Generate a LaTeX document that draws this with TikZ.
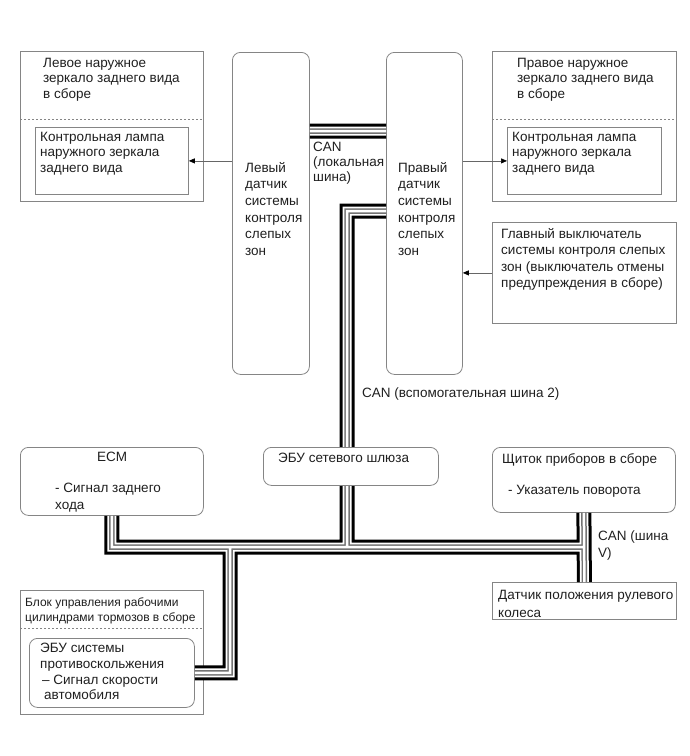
\documentclass[tikz,border=0pt]{standalone}
\usepackage{fontspec}
\setmainfont{Liberation Sans}
\definecolor{framegray}{gray}{0.52}
\definecolor{textgray}{gray}{0.12}
\usetikzlibrary{arrows.meta, positioning}

\begin{document}
\begin{tikzpicture}[x=1pt, y=-1pt,
    block/.style={draw=framegray, line width=0.8pt, inner sep=0pt, anchor=north west},
    rblock/.style={block, rounded corners=8pt},
    txt/.style={anchor=north west, inner sep=0pt, align=left, text=textgray, font=\fontsize{13.5}{16.5}\selectfont},
    sig/.style={draw=black!60, line width=0.7pt, -{Triangle[length=6pt, width=5pt, color=black]}},
    sepline/.style={draw=framegray, line width=0.8pt, dash pattern=on 2pt off 2pt}
]
    \useasboundingbox (0,0) rectangle (690,756);

    % Mirrors (top left / top right)
    \node[block, minimum width=183pt, minimum height=150pt] (lmirror) at (20,51) {};
    \node[block, minimum width=153pt, minimum height=67pt] (llamp) at (35,127) {};
    \node[block, minimum width=184pt, minimum height=150pt] (rmirror) at (492,51) {};
    \node[block, minimum width=154pt, minimum height=67pt] (rlamp) at (507,127) {};
    \draw[sepline] (lmirror.west |- 0,119) -- (lmirror.east |- 0,119);
    \draw[sepline] (rmirror.west |- 0,119) -- (rmirror.east |- 0,119);

    % Blind spot sensors
    \node[rblock, minimum width=77pt, minimum height=322pt] (lsensor) at (232,52) {};
    \node[rblock, minimum width=76pt, minimum height=322pt] (rsensor) at (386,52) {};

    % Main switch
    \node[block, minimum width=184pt, minimum height=101pt] (mainsw) at (492,222) {};

    % Lower units
    \node[rblock, minimum width=183pt, minimum height=68pt] (ecm) at (20,447) {};
    \node[rblock, minimum width=183pt, minimum height=65pt] (cluster) at (492,447) {};
    \node[block, minimum width=184pt, minimum height=37pt] (steer) at (492,582) {};
    \node[block, minimum width=183pt, minimum height=124pt] (brake) at (20,590) {};
    \node[rblock, minimum width=165pt, minimum height=69pt] (abs) at (29,638) {};
    \draw[sepline] (brake.west |- 0,628) -- (brake.east |- 0,628);

    % Bus junctions
    \coordinate (cloc) at (0,131);
    \coordinate (ctop) at (0,211);
    \coordinate (jgw) at (347,547);
    \coordinate (jabs) at (230,547);
    \coordinate (jmain) at (cluster.south |- jgw);

    % CAN lines
    \foreach \w/\c in {15/black, 9/white, 5.5/black!55, 2.5/white}{
        \draw[line width=\w pt, draw=\c]
            (lsensor.east |- cloc) -- (rsensor.west |- cloc)
            (rsensor.west |- ctop) -| (jgw)
            (ecm.south) |- (jmain)
            (cluster.south) -- (steer.north)
            (jabs) |- (abs.east);
    }

    % Gateway sits on the bus
    \node[rblock, fill=white, minimum width=175pt, minimum height=38pt] (gateway) at (263,447) {};

    % Signal arrows
    \draw[sig] (lsensor.west |- llamp.east) -- (llamp.east);
    \draw[sig] (rsensor.east |- rlamp.west) -- (rlamp.west);
    \draw[sig] (mainsw.west) -- (rsensor.east |- mainsw.west);

    % Texts
    \node[txt, font=\fontsize{13.5}{15.3}\selectfont] (lmirror-t) at (43,58) {Левое наружное\\зеркало заднего вида\\в сборе};
    \node[txt, font=\fontsize{13.5}{15.3}\selectfont] (rmirror-t) at (517,58) {Правое наружное\\зеркало заднего вида\\в сборе};
    \node[txt, font=\fontsize{13.5}{15.5}\selectfont] (llamp-t) at (40,132) {Контрольная лампа\\наружного зеркала\\заднего вида};
    \node[txt, font=\fontsize{13.5}{15.5}\selectfont] (rlamp-t) at (512,132) {Контрольная лампа\\наружного зеркала\\заднего вида};
    \node[txt, font=\fontsize{13.5}{16.6}\selectfont] (lsensor-t) at (245,162) {Левый\\датчик\\системы\\контроля\\слепых\\зон};
    \node[txt, font=\fontsize{13.5}{16.6}\selectfont] (rsensor-t) at (398,162) {Правый\\датчик\\системы\\контроля\\слепых\\зон};
    \node[txt, font=\fontsize{13.5}{16.4}\selectfont] (mainsw-t) at (501,228) {Главный выключатель\\системы контроля слепых\\зон (выключатель отмены\\предупреждения в сборе)};
    \node[txt, font=\fontsize{13.5}{15}\selectfont] (canloc-t) at (313,142) {CAN\\(локальная\\шина)};
    \node[txt] (cansub-t) at (362,388) {CAN (вспомогательная шина 2)};
    \node[txt] (gateway-t) at (278,453) {ЭБУ сетевого шлюза};
    \node[txt, anchor=north] (ecm-t) at (112,452) {ECM};
    \node[txt, font=\fontsize{13.5}{17}\selectfont] (ecm-b) at (55,483) {- Сигнал заднего\\хода};
    \node[txt] (cluster-t) at (502,453) {Щиток приборов в сборе};
    \node[txt] (cluster-b) at (508,485) {- Указатель поворота};
    \node[txt, font=\fontsize{13.5}{18}\selectfont] (steer-t) at (498,590) {Датчик положения рулевого\\колеса};
    \node[txt, font=\fontsize{13.5}{17}\selectfont] (canv-t) at (598,531) {CAN (шина\\V)};
    \node[txt, font=\fontsize{12}{15}\selectfont] (brake-t) at (25,597) {Блок управления рабочими\\цилиндрами тормозов в сборе};
    \node[txt, font=\fontsize{13.5}{15.7}\selectfont] (abs-t) at (40,643) {ЭБУ системы\\противоскольжения\\\hspace*{2pt}– Сигнал скорости\\\hspace*{4pt}автомобиля};
\end{tikzpicture}
\end{document}
